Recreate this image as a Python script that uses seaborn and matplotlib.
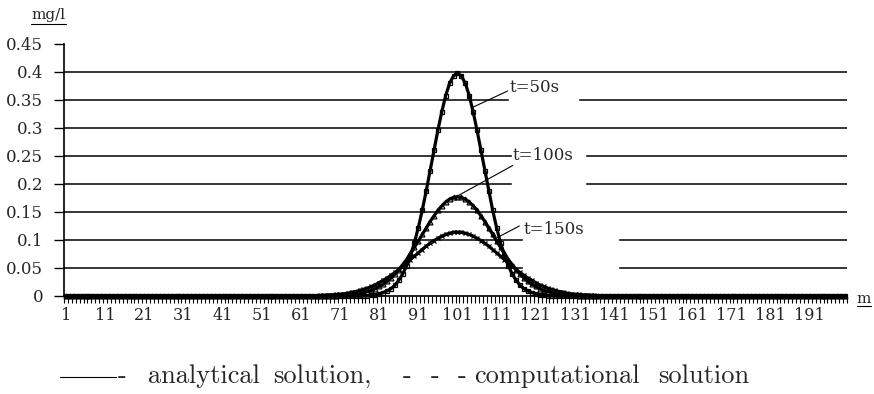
import numpy as np
import pandas as pd
import seaborn as sns
import matplotlib.pyplot as plt
from matplotlib.patches import Rectangle
from matplotlib.lines import Line2D

# categories along the channel (m)
positions = np.arange(1, 201)

# concentration (mg/l), non-zero part of each curve
t50_start = 79
t50_vals = [0.001, 0.002, 0.004, 0.006, 0.009, 0.013, 0.019, 0.028, 0.039, 0.054,
            0.072, 0.095, 0.122, 0.153, 0.187, 0.223, 0.260, 0.296, 0.329, 0.358,
            0.380, 0.393, 0.398, 0.393, 0.380, 0.358, 0.329, 0.296, 0.260, 0.223,
            0.187, 0.153, 0.122, 0.095, 0.072, 0.054, 0.039, 0.028, 0.019, 0.013,
            0.009, 0.006, 0.004, 0.002, 0.001]

t100_start = 71
t100_vals = [0.001, 0.001, 0.002, 0.002, 0.003, 0.004, 0.006, 0.008, 0.010, 0.013,
             0.017, 0.021, 0.026, 0.032, 0.039, 0.047, 0.056, 0.065, 0.076, 0.087,
             0.098, 0.110, 0.121, 0.133, 0.143, 0.153, 0.161, 0.168, 0.173, 0.176,
             0.177, 0.176, 0.173, 0.168, 0.161, 0.153, 0.143, 0.133, 0.121, 0.110,
             0.098, 0.087, 0.076, 0.065, 0.056, 0.047, 0.039, 0.032, 0.026, 0.021,
             0.017, 0.013, 0.010, 0.008, 0.006, 0.004, 0.003, 0.002, 0.002, 0.001,
             0.001]

t150_start = 66
t150_vals = [0.001, 0.001, 0.002, 0.002, 0.003, 0.003, 0.004, 0.005, 0.007, 0.008,
             0.010, 0.012, 0.014, 0.017, 0.020, 0.024, 0.028, 0.032, 0.037, 0.042,
             0.047, 0.053, 0.059, 0.065, 0.071, 0.077, 0.083, 0.089, 0.094, 0.099,
             0.103, 0.107, 0.110, 0.112, 0.114, 0.114, 0.114, 0.112, 0.110, 0.107,
             0.103, 0.099, 0.094, 0.089, 0.083, 0.077, 0.071, 0.065, 0.059, 0.053,
             0.047, 0.042, 0.037, 0.032, 0.028, 0.024, 0.020, 0.017, 0.014, 0.012,
             0.010, 0.008, 0.007, 0.005, 0.004, 0.003, 0.003, 0.002, 0.002, 0.001,
             0.001]

series_names = ["t=50s", "t=100s", "t=150s"]
y_ticks = [0, 0.05, 0.1, 0.15, 0.2, 0.25, 0.3, 0.35, 0.4, 0.45]
y_tick_labels = ["0", "0.05", "0.1", "0.15", "0.2", "0.25", "0.3", "0.35", "0.4", "0.45"]
x_tick_labels = [str(v) for v in range(1, 200, 10)]


def full_series(start, vals):
    y = np.zeros(len(positions))
    y[start - 1:start - 1 + len(vals)] = vals
    return y


df = pd.DataFrame({
    "m": positions,
    "t=50s": full_series(t50_start, t50_vals),
    "t=100s": full_series(t100_start, t100_vals),
    "t=150s": full_series(t150_start, t150_vals),
}).melt(id_vars="m", var_name="series", value_name="conc")

sns.set_style("ticks")
plt.rcParams["font.family"] = ["DejaVu Serif"]

fig = plt.figure(figsize=(8.74, 3.94), dpi=100)
ax = fig.add_axes([64 / 874, 98 / 394, 783 / 874, 252 / 394])

markers = ["s", "^", "x"]
for name, mk in zip(series_names, markers):
    sns.lineplot(data=df[df["series"] == name], x="m", y="conc", color="black",
                 lw=2.3, marker=mk, markersize=3.5, markerfacecolor="none",
                 markeredgecolor="black", markeredgewidth=0.9, ax=ax,
                 legend=False, clip_on=False, zorder=3)

# horizontal grid
for v in y_ticks[1:-1]:
    ax.axhline(v, color="black", lw=1.1, zorder=0.5)

# white boxes behind the curve labels (they cut the grid lines)
ax.add_patch(Rectangle((114.2, 0.342), 17.6, 0.046, color="white", zorder=1))
ax.add_patch(Rectangle((114.9, 0.189), 18.7, 0.074, color="white", zorder=1))
ax.add_patch(Rectangle((117.7, 0.043), 24.3, 0.089, color="white", zorder=1))

# curve labels with leader lines
ax.text(114.4, 0.372, "t=50s", fontsize=12, va="center", ha="left", zorder=4)
ax.text(115.1, 0.251, "t=100s", fontsize=12, va="center", ha="left", zorder=4)
ax.text(117.9, 0.119, "t=150s", fontsize=12, va="center", ha="left", zorder=4)
ax.plot([104.9, 113.8], [0.337, 0.366], color="black", lw=0.8, zorder=4)
ax.plot([100.6, 115.1], [0.177, 0.233], color="black", lw=0.8, zorder=4)
ax.plot([110.8, 116.8], [0.103, 0.125], color="black", lw=0.8, zorder=4)

ax.set_xlim(0.5, 200.5)
ax.set_ylim(0, 0.45)
ax.set_yticks(y_ticks)
ax.set_yticklabels(y_tick_labels)
ax.set_xticks(range(1, 200, 10))
ax.set_xticklabels(x_tick_labels)
ax.set_xticks(np.arange(0.5, 201, 1), minor=True)
ax.tick_params(axis="y", direction="out", length=7, width=1, color="black",
               pad=8, labelsize=12, left=True)
ax.tick_params(axis="x", which="major", length=0, pad=8, labelsize=11.5, bottom=True)
ax.tick_params(axis="x", which="minor", direction="out", length=5, width=0.8,
               color="black", bottom=True)
ax.set_xlabel("")
ax.set_ylabel("")
for s in ["top", "right"]:
    ax.spines[s].set_visible(False)
for s in ["left", "bottom"]:
    ax.spines[s].set_color("black")
    ax.spines[s].set_linewidth(1.2)

# axis unit labels (underlined)
fig.text(48 / 874, 1 - 15 / 394, "mg/l", fontsize=11, ha="center", va="center")
fig.add_artist(Line2D([31 / 874, 66 / 874], [1 - 24 / 394, 1 - 24 / 394],
                      color="black", lw=0.8))
fig.text(864 / 874, 1 - 299 / 394, "m", fontsize=11, ha="center", va="center")
fig.add_artist(Line2D([857 / 874, 871 / 874], [1 - 306 / 394, 1 - 306 / 394],
                      color="black", lw=0.8))

# caption-like legend at the bottom, words placed as in the original
cap_font = dict(fontsize=19, family=["cmr10", "DejaVu Serif"], va="baseline", ha="left")
cap_y = 1 - 383 / 394
fig.add_artist(Line2D([60 / 874, 116 / 874], [1 - 377 / 394, 1 - 377 / 394],
                      color="black", lw=0.8))
for px, word in [(118, "-"), (148, "analytical"), (273, "solution,"),
                 (403, "-"), (431, "-"), (458, "-"),
                 (474, "computational"), (658, "solution")]:
    fig.text(px / 874, cap_y, word, **cap_font)

fig.savefig("out.png", dpi=100, facecolor="white")
